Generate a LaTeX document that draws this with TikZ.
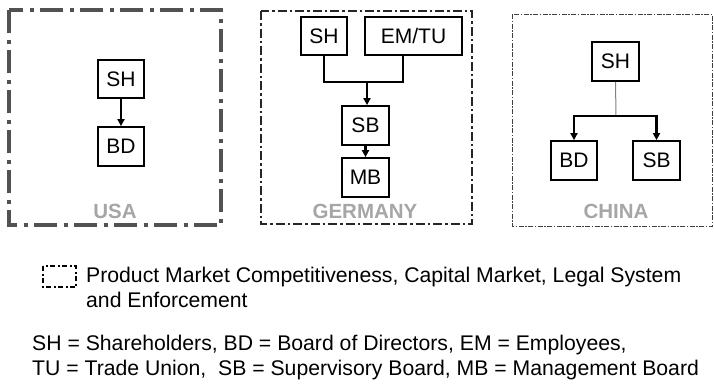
\documentclass[tikz,border=0pt]{standalone}
\usepackage{fontspec}
\setmainfont{Liberation Sans}
\usetikzlibrary{arrows.meta}
\begin{document}
\begin{tikzpicture}[x=1pt,y=-1pt,
  box/.style={draw=black,line width=1.8pt,inner sep=0pt,font=\fontsize{21}{21}\selectfont},
  conn/.style={line width=2.2pt,draw=black},
  arr/.style={conn,-{Triangle[width=7pt,length=7pt]}},
  country/.style={font=\bfseries\fontsize{20.5}{20.5}\selectfont,text=black!35,anchor=base,inner sep=0pt},
  txt/.style={font=\fontsize{21.2}{21.2}\selectfont,anchor=base west,inner sep=0pt}]
\useasboundingbox (0,0) rectangle (714,384);
% frames
\draw[line width=4pt,black!68,dash pattern=on 23pt off 6.5pt on 4pt off 6.5pt] (9,10) rectangle (221,225);
\draw[line width=2.2pt,black!85,dash pattern=on 9pt off 3pt on 2.5pt off 3pt] (261,11) rectangle (472,224);
\draw[line width=1pt,black!75,dash pattern=on 5pt off 1.5pt on 1.5pt off 1.5pt] (512,14) rectangle (712,226);
% USA
\node[box,minimum width=46pt,minimum height=38pt] (ush) at (121,79) {SH};
\node[box,minimum width=46pt,minimum height=39pt] (ubd) at (121,146.5) {BD};
\draw[arr] (ush) -- (ubd);
\node[country] (usa) at (115,218) {USA};
% Germany
\node[box,minimum width=46pt,minimum height=38pt] (gsh) at (324,36) {SH};
\node[box,minimum width=97pt,minimum height=38pt] (gem) at (413.5,36) {EM/TU};
\node[box,minimum width=47pt,minimum height=39pt] (gsb) at (365.5,125.5) {SB};
\node[box,minimum width=47pt,minimum height=39pt] (gmb) at (365.5,177.5) {MB};
\coordinate (gj) at (367,82);
\draw[conn] (gsh.south) -- (324,82) -- (403,82) -- (403,55);
\draw[arr] (gj) -- (gj |- gsb.north);
\draw[arr] (gsb.south) -- (gmb.north);
\node[country] (ger) at (365,218.5) {GERMANY};
% China
\node[box,minimum width=47pt,minimum height=39pt] (csh) at (615.5,61.5) {SH};
\node[box,minimum width=46pt,minimum height=39pt] (cbd) at (574,160.5) {BD};
\node[box,minimum width=47pt,minimum height=39pt] (csb) at (656.5,160.5) {SB};
\coordinate (cj) at (616,116);
\draw[line width=1pt,black!50] (csh.south) -- (cj);
\draw[arr] (cj) -| (cbd.north);
\draw[arr] (cj) -| (csb.north);
\node[country] (chn) at (616,218.5) {CHINA};
% legend
\draw[line width=1.5pt,black,dash pattern=on 5pt off 2.5pt on 2pt off 2.5pt] (43,266) rectangle (76,287);
\node[txt] (l1) at (86,282) {Product Market Competitiveness, Capital Market, Legal System};
\node[txt] (l2) at (86,307) {and Enforcement};
\node[txt] (l3) at (32,350) {SH = Shareholders, BD = Board of Directors, EM = Employees,};
\node[txt] (l4) at (32,375) {TU = Trade Union,\ \ SB = Supervisory Board, MB = Management Board};
\end{tikzpicture}
\end{document}
